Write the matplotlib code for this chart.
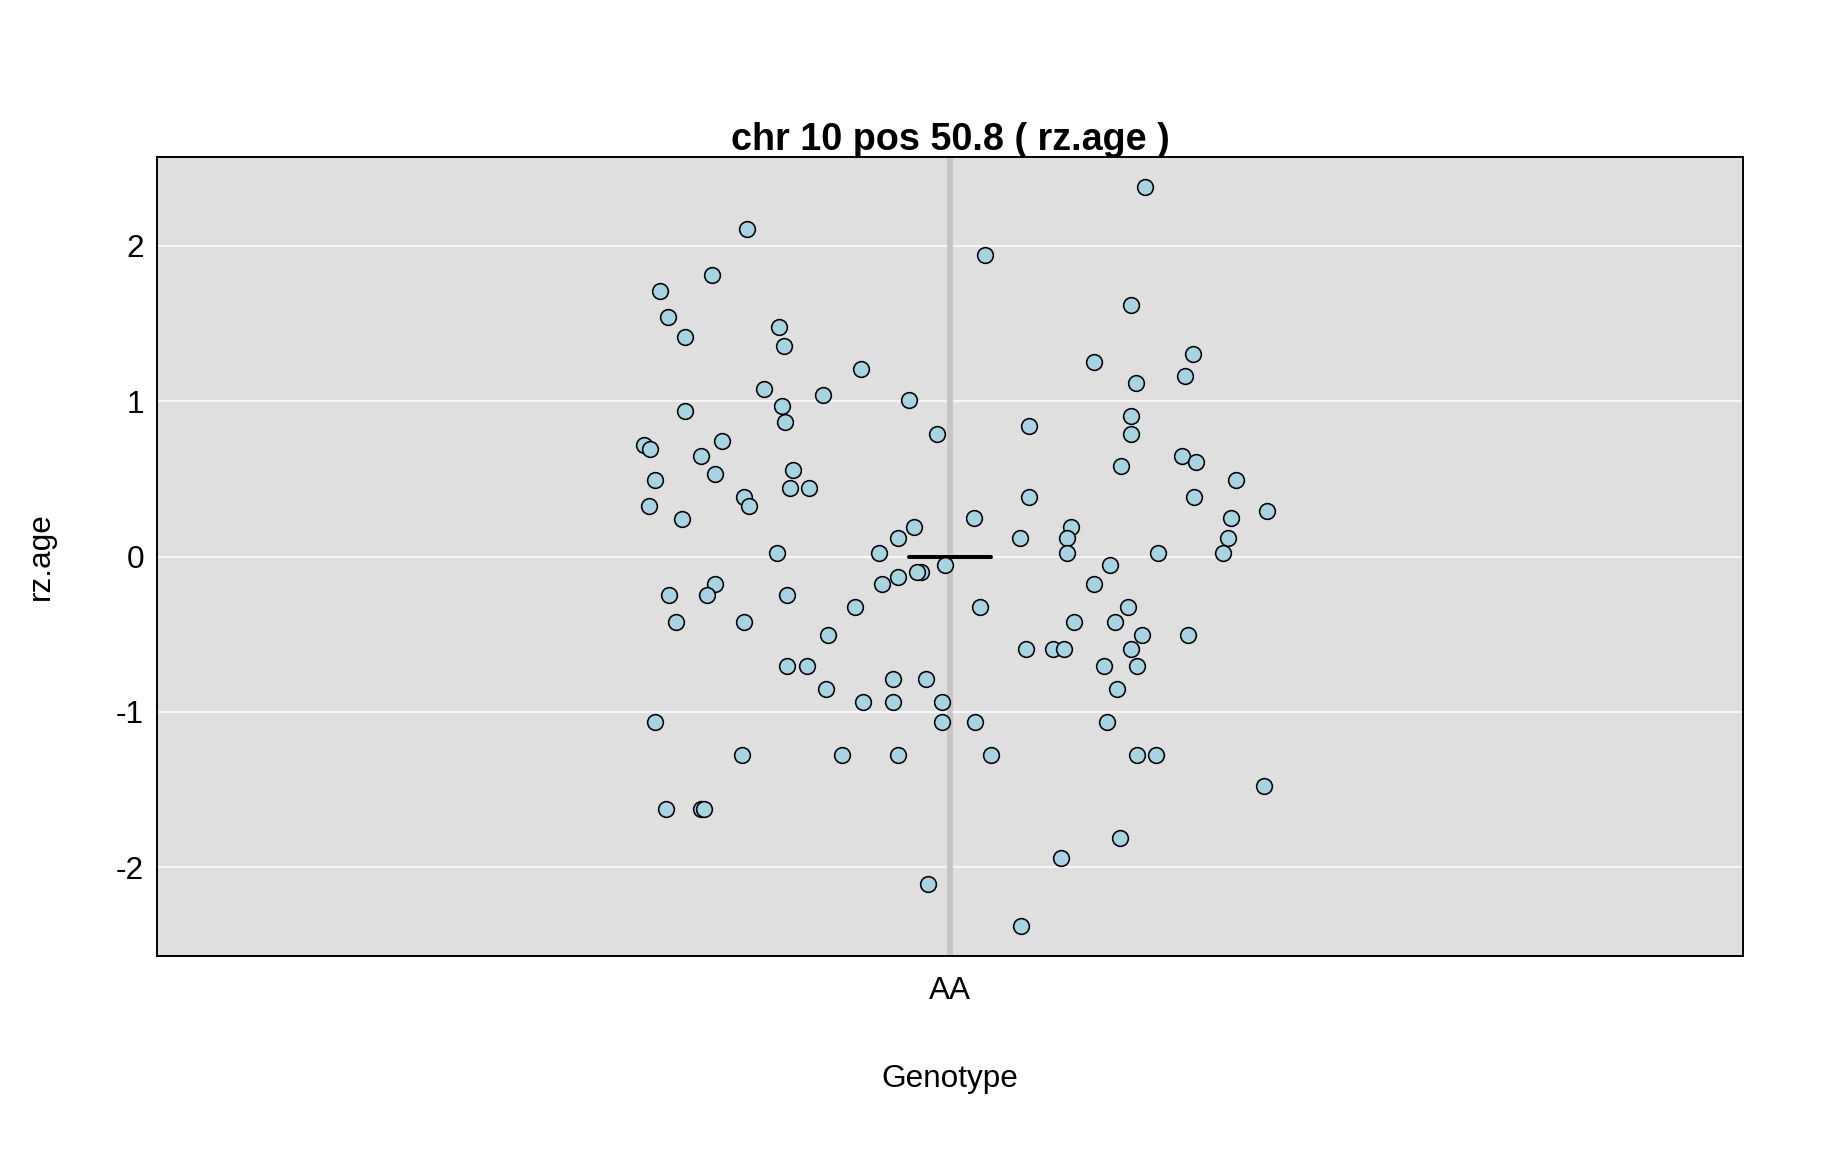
import matplotlib
matplotlib.use("Agg")
import matplotlib.pyplot as plt
import numpy as np

plt.rcParams['font.family'] = ['Liberation Sans', 'DejaVu Sans']

# one genotype group, points jittered around it
genotype = "AA"
title = "chr 10 pos 50.8 ( rz.age )"
y_label = "rz.age"
x_label = "Genotype"
y_ticks = [-2, -1, 0, 1, 2]

# horizontal jitter of each point
jitter = [
    -0.128, -0.150, -0.183, -0.178, -0.167, -0.108, -0.105, -0.056, -0.117, -0.080,
    -0.106, -0.104, -0.026, -0.167, -0.008, -0.193, -0.189, -0.144, -0.157, -0.148,
    -0.186, -0.099, -0.101, -0.089, -0.130, -0.127, -0.190, -0.169, -0.023, -0.033,
    -0.109, -0.045, -0.003, -0.018, -0.021, -0.033, -0.043, -0.148, -0.153, -0.177,
    -0.103, -0.060, -0.173, -0.130, -0.077, -0.103, -0.090, -0.078, -0.036, -0.015,
    -0.055, -0.036, -0.005, -0.186, -0.005, -0.131, -0.068, -0.033, -0.179, -0.157,
    -0.155, -0.014,
    0.123, 0.022, 0.114, 0.091, 0.153, 0.148, 0.117, 0.114, 0.114, 0.050,
    0.146, 0.155, 0.108, 0.180, 0.050, 0.154, 0.200, 0.177, 0.015, 0.044,
    0.076, 0.074, 0.175, 0.074, 0.131, 0.172, 0.101, 0.091, 0.019, 0.112,
    0.078, 0.104, 0.121, 0.150, 0.048, 0.065, 0.072, 0.114, 0.097, 0.118,
    0.105, 0.016, 0.099, 0.026, 0.118, 0.130, 0.198, 0.107, 0.070, 0.045,
]

rz_age = [
    2.107, 1.811, 1.708, 1.544, 1.413, 1.475, 1.355, 1.205, 1.078, 1.040,
    0.967, 0.866, 1.004, 0.933, 0.789, 0.717, 0.689, 0.744, 0.648, 0.530,
    0.492, 0.554, 0.442, 0.442, 0.384, 0.322, 0.324, 0.243, 0.188, 0.121,
    0.020, 0.020, -0.055, -0.100, -0.100, -0.132, -0.177, -0.177, -0.245, -0.245,
    -0.245, -0.327, -0.419, -0.419, -0.504, -0.704, -0.704, -0.852, -0.789, -0.789,
    -0.935, -0.935, -0.935, -1.062, -1.062, -1.278, -1.278, -1.278, -1.621, -1.621,
    -1.621, -2.107,
    2.377, 1.938, 1.621, 1.252, 1.303, 1.160, 1.119, 0.901, 0.789, 0.837,
    0.648, 0.607, 0.582, 0.492, 0.382, 0.382, 0.290, 0.245, 0.245, 0.121,
    0.188, 0.121, 0.121, 0.020, 0.020, 0.020, -0.055, -0.177, -0.327, -0.327,
    -0.419, -0.419, -0.504, -0.504, -0.594, -0.594, -0.594, -0.594, -0.704, -0.704,
    -0.852, -1.062, -1.062, -1.278, -1.278, -1.278, -1.477, -1.811, -1.940, -2.377,
]

group_mean = 0.0

fig = plt.figure(figsize=(18.24, 11.52), dpi=100)
ax = fig.add_axes([0.0861, 0.1701, 0.8695, 0.6936])
ax.set_facecolor("#dfdfdf")

ax.set_xlim(0.5, 1.5)
ax.set_ylim(-2.57, 2.57)

for t in y_ticks:
    ax.axhline(t, color="white", linewidth=1.1, zorder=1)
ax.axvline(1, color="#c6c6c6", linewidth=4.3, zorder=1)

x = 1 + np.array(jitter)
ax.scatter(x, rz_age, s=128, facecolor="#a6d4e3", edgecolor="black", linewidth=1.15, zorder=3)

ax.plot([1 - 0.026, 1 + 0.026], [group_mean, group_mean], color="black",
        linewidth=2.9, solid_capstyle="round", zorder=2)

ax.set_xticks([1])
ax.set_xticklabels([genotype])
ax.set_yticks(y_ticks)
ax.set_yticklabels([str(t) for t in y_ticks])
ax.tick_params(axis="both", length=0, labelsize=22.7)
ax.tick_params(axis="y", pad=9.4)
ax.tick_params(axis="x", pad=14.5)

for sp in ax.spines.values():
    sp.set_linewidth(1.4)
    sp.set_color("black")

ax.text(0.5, 1.009, title, transform=ax.transAxes, ha="center", va="baseline",
        fontsize=27.2, fontweight="bold")
fig.text(0.5208, 0.0564, x_label, ha="center", va="baseline", fontsize=22.7)
fig.text(0.0225, 0.5174, y_label, ha="center", va="center", rotation=90, fontsize=22.7)

fig.savefig("out.png", dpi=100)
